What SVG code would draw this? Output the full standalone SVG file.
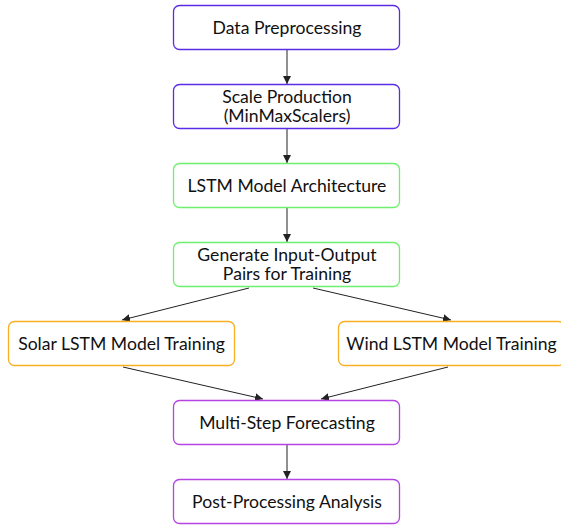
<svg xmlns="http://www.w3.org/2000/svg" width="561" height="527" viewBox="0 0 561 527">
<style>
rect{fill:#fff;stroke-width:1.3}
.b{stroke:#5b2ce6}.g{stroke:#6ef06e}.o{stroke:#f7b022}.p{stroke:#b444e4}
text{font-family:Lato,"Open Sans",sans-serif;font-size:17.6px;fill:#111;text-anchor:middle}
.e{stroke:#222;stroke-width:1;fill:none;marker-end:url(#a)}
</style>
<defs><marker id="a" viewBox="0 0 10 10" refX="10" refY="5" markerWidth="8" markerHeight="8" orient="auto" markerUnits="userSpaceOnUse"><path d="M0,0L10,5L0,10z" fill="#222"/></marker></defs>
<g id="connectors">
<path class="e" d="M287,50V84"/>
<path class="e" d="M287,129V163"/>
<path class="e" d="M287,208V242"/>
<path class="e" d="M249,288L122,320"/>
<path class="e" d="M313,288L451,320"/>
<path class="e" d="M123,367L263,399"/>
<path class="e" d="M448,367L321,399"/>
<path class="e" d="M287,445V479"/>
</g>
<g id="n1"><rect class="b" x="173.5" y="5.5" width="226" height="44" rx="6"/><text x="287" y="33.5">Data Preprocessing</text></g>
<g id="n2"><rect class="b" x="173.5" y="84.5" width="226" height="44" rx="6"/><text x="287" y="102.5">Scale Production</text><text x="287" y="122">(MinMaxScalers)</text></g>
<g id="n3"><rect class="g" x="173.5" y="163.5" width="226" height="44" rx="6"/><text x="287" y="191.5">LSTM Model Architecture</text></g>
<g id="n4"><rect class="g" x="173.5" y="242.5" width="226" height="44" rx="6"/><text x="287" y="260.5">Generate Input-Output</text><text x="287" y="280">Pairs for Training</text></g>
<g id="n5"><rect class="o" x="8.5" y="321.5" width="226" height="44" rx="6"/><text x="121.5" y="349.5">Solar LSTM Model Training</text></g>
<g id="n6"><rect class="o" x="338.5" y="321.5" width="226" height="44" rx="6"/><text x="451.5" y="349.5">Wind LSTM Model Training</text></g>
<g id="n7"><rect class="p" x="173.5" y="400.5" width="226" height="44" rx="6"/><text x="287" y="428.5">Multi-Step Forecasting</text></g>
<g id="n8"><rect class="p" x="173.5" y="479.5" width="226" height="44" rx="6"/><text x="287" y="507.5">Post-Processing Analysis</text></g>
</svg>
